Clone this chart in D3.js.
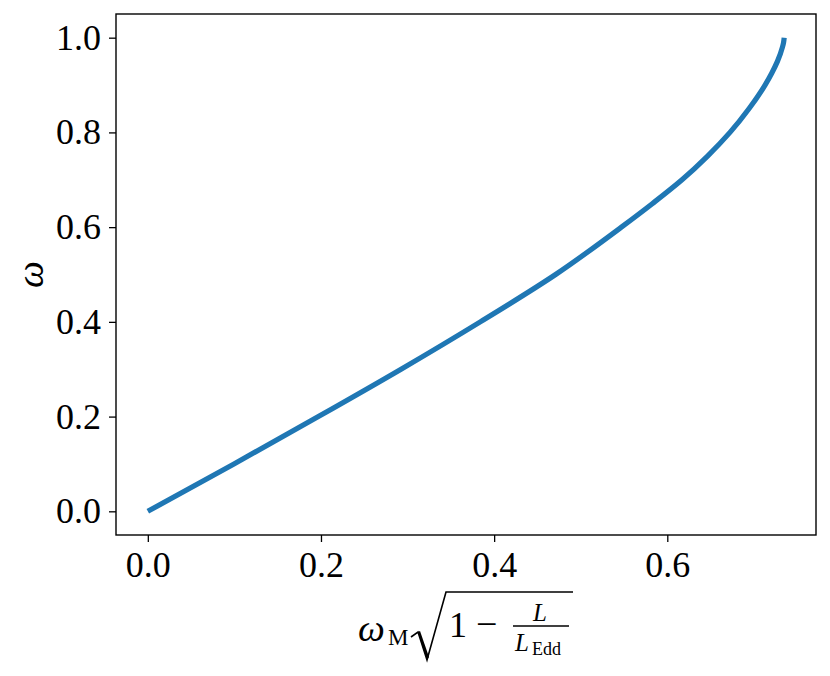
<!DOCTYPE html>
<html>
<head>
<meta charset="utf-8">
<script src="https://cdn.jsdelivr.net/npm/d3@7"></script>
<style>
  html, body { margin: 0; padding: 0; background: #fff; }
  svg { display: block; }
  text { font-family: "Liberation Serif", "DejaVu Serif", serif; fill: #000; }
</style>
</head>
<body>
<svg id="chart" width="830" height="676"></svg>
<script>
// ---- data ----
const omega   = [0, 0.1, 0.2, 0.3, 0.4, 0.5, 0.6, 0.65, 0.7, 0.75, 0.8, 0.85, 0.9, 0.925, 0.95, 0.98, 0.99, 1.0];
const omegaMx = [0, 0.0995, 0.197, 0.2925, 0.384, 0.471, 0.547, 0.583, 0.617, 0.6465, 0.6724, 0.6943, 0.7129, 0.7206, 0.7272, 0.733, 0.7343, 0.735];
const xTicks = [0.0, 0.2, 0.4, 0.6];
const yTicks = [0.0, 0.2, 0.4, 0.6, 0.8, 1.0];

(function () {
const points = omega.map((w, i) => ({ x: omegaMx[i], y: w }));

const svg = d3.select("#chart");
const mLeft = 116, mRight = 816, mTop = 14, mBottom = 535;

const xExt = d3.extent(omegaMx), yExt = d3.extent(omega);
const xPad = (xExt[1] - xExt[0]) * 0.05, yPad = (yExt[1] - yExt[0]) * 0.05;
const x = d3.scaleLinear().domain([xExt[0] - xPad, xExt[1] + xPad]).range([mLeft, mRight]);
const y = d3.scaleLinear().domain([yExt[0] - yPad, yExt[1] + yPad]).range([mBottom, mTop]);

svg.append("rect").attr("width", 830).attr("height", 676).attr("fill", "#fff");

// curve
svg.append("path")
  .datum(points)
  .attr("fill", "none")
  .attr("stroke", "#1f77b4")
  .attr("stroke-width", 5.2)
  .attr("stroke-linecap", "butt")
  .attr("stroke-linejoin", "round")
  .attr("d", d3.line().x(d => x(d.x)).y(d => y(d.y)).curve(d3.curveMonotoneY));

// axes
const fmt = d3.format(".1f");
const gx = svg.append("g").attr("transform", `translate(0,${mBottom})`)
  .call(d3.axisBottom(x).tickValues(xTicks).tickFormat(fmt).tickSize(7).tickPadding(9));
const gy = svg.append("g").attr("transform", `translate(${mLeft},0)`)
  .call(d3.axisLeft(y).tickValues(yTicks).tickFormat(fmt).tickSize(7).tickPadding(8));
[gx, gy].forEach(g => {
  g.select(".domain").remove();
  g.selectAll(".tick line").attr("stroke", "#000").attr("stroke-width", 1.3);
  g.selectAll(".tick text").attr("font-family", "Liberation Serif, serif").attr("font-size", 36).attr("fill", "#000");
});

// frame
svg.append("rect")
  .attr("x", mLeft).attr("y", mTop).attr("width", mRight - mLeft).attr("height", mBottom - mTop)
  .attr("fill", "none").attr("stroke", "#000").attr("stroke-width", 1.4);

// y label (omega, rotated)
svg.append("text")
  .attr("transform", `translate(43,${(mTop + mBottom) / 2}) rotate(-90)`)
  .attr("text-anchor", "middle")
  .attr("font-size", 38).attr("font-style", "italic")
  .text("ω");

// x label: omega_M sqrt(1 - L / L_Edd)
const xl = svg.append("g");
xl.append("text").attr("x", 358).attr("y", 641).attr("font-size", 38).attr("font-style", "italic").text("ω");
xl.append("text").attr("x", 388).attr("y", 645).attr("font-size", 23).text("M");
// radical sign
xl.append("path")
  .attr("d", "M411,637 L418,632 L427,660 L446,592 L573,592")
  .attr("fill", "none").attr("stroke", "#000").attr("stroke-width", 1.6).attr("stroke-linejoin", "miter");
xl.append("path")
  .attr("d", "M418,632 L427,660 L429,657 L420,631 Z")
  .attr("fill", "#000");
xl.append("text").attr("x", 449).attr("y", 637).attr("font-size", 36).text("1");
xl.append("text").attr("x", 476).attr("y", 637).attr("font-size", 38).text("−");
// fraction
xl.append("line").attr("x1", 513).attr("x2", 569).attr("y1", 626).attr("y2", 626)
  .attr("stroke", "#000").attr("stroke-width", 1.3);
xl.append("text").attr("x", 533).attr("y", 621).attr("font-size", 25).attr("font-style", "italic").text("L");
xl.append("text").attr("x", 515).attr("y", 651).attr("font-size", 25).attr("font-style", "italic").text("L");
xl.append("text").attr("x", 532).attr("y", 655).attr("font-size", 18).text("Edd");
})();
</script>
</body>
</html>
